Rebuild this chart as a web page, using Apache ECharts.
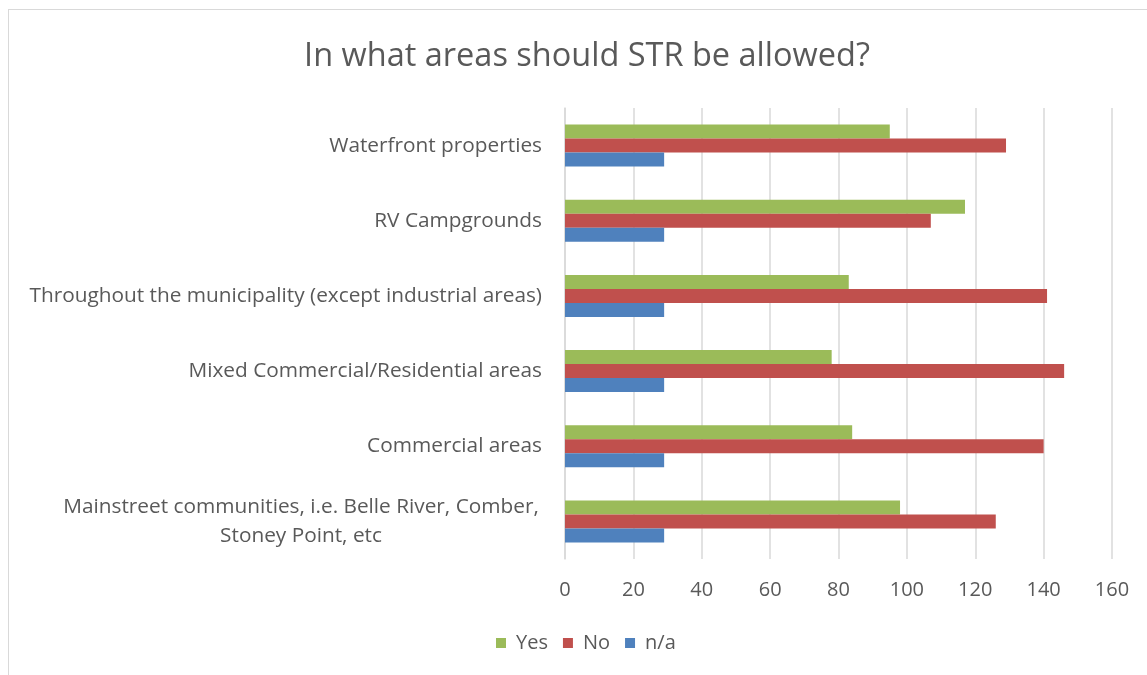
<!DOCTYPE html>
<html>
<head>
<meta charset="utf-8">
<script src="https://cdn.jsdelivr.net/npm/echarts@6/dist/echarts.min.js"></script>
<style>
html,body{margin:0;padding:0;overflow:hidden;background:#fff;}
#frame{position:absolute;left:8px;top:9px;width:1160px;height:700px;border:1px solid #d9d9d9;}
#chart{position:absolute;left:0;top:0;width:1147px;height:675px;}
</style>
</head>
<body>
<div id="frame"></div>
<div id="chart"></div>
<script>
const categories = [
  "Waterfront properties",
  "RV Campgrounds",
  "Throughout the municipality (except industrial areas)",
  "Mixed Commercial/Residential areas",
  "Commercial areas",
  "Mainstreet communities, i.e. Belle River, Comber,\nStoney Point, etc"
];
const yesValues = [95, 117, 83, 78, 84, 98];
const noValues = [129, 107, 141, 146, 140, 126];
const naValues = [29, 29, 29, 29, 29, 29];
const xTicks = [0, 20, 40, 60, 80, 100, 120, 140, 160];

const font = "'Open Sans', 'Noto Sans', sans-serif";
const txt = '#595959';
const chart = echarts.init(document.getElementById('chart'));
chart.setOption({
  animation: false,
  textStyle: {fontFamily: font},
  title: {
    text: 'In what areas should STR be allowed?',
    left: 582, top: 35, textAlign: 'center',
    textStyle: {fontFamily: font, fontSize: 32.5, fontWeight: 'normal', color: txt}
  },
  legend: {
    data: ['Yes', 'No', 'n/a'],
    left: 491, top: 628, itemWidth: 10, itemHeight: 10, itemGap: 15,
    icon: 'rect',
    textStyle: {fontFamily: font, fontSize: 20, color: txt, padding: [0, 0, 0, 5]}
  },
  grid: {left: 565, right: 35, top: 108, bottom: 116},
  xAxis: {
    type: 'value', min: xTicks[0], max: xTicks[xTicks.length - 1], interval: 20,
    axisLine: {show: false}, axisTick: {show: false},
    splitLine: {lineStyle: {color: '#d9d9d9', width: 1.5}},
    axisLabel: {fontFamily: font, fontSize: 20, color: txt, margin: 21}
  },
  yAxis: {
    type: 'category', data: categories, inverse: true,
    axisLine: {lineStyle: {color: '#d9d9d9', width: 1.5}},
    axisTick: {show: false},
    axisLabel: {
      fontFamily: font, fontSize: 20.8, color: txt, margin: 23,
      formatter: function (v) {
        if (v.indexOf('\n') >= 0) {
          return v.split('\n').map(l => '{c|' + l + '}').join('\n');
        }
        return v;
      },
      rich: {c: {width: 482, align: 'center', fontFamily: font, fontSize: 20.8, color: txt, lineHeight: 29}}
    }
  },
  series: [
    {name: 'Yes', type: 'bar', data: yesValues, barWidth: 14, barGap: '0%', itemStyle: {color: '#9bbb59'}},
    {name: 'No', type: 'bar', data: noValues, barWidth: 14, barGap: '0%', itemStyle: {color: '#c0504d'}},
    {name: 'n/a', type: 'bar', data: naValues, barWidth: 14, barGap: '0%', itemStyle: {color: '#4f81bd'}}
  ]
});
</script>
</body>
</html>
